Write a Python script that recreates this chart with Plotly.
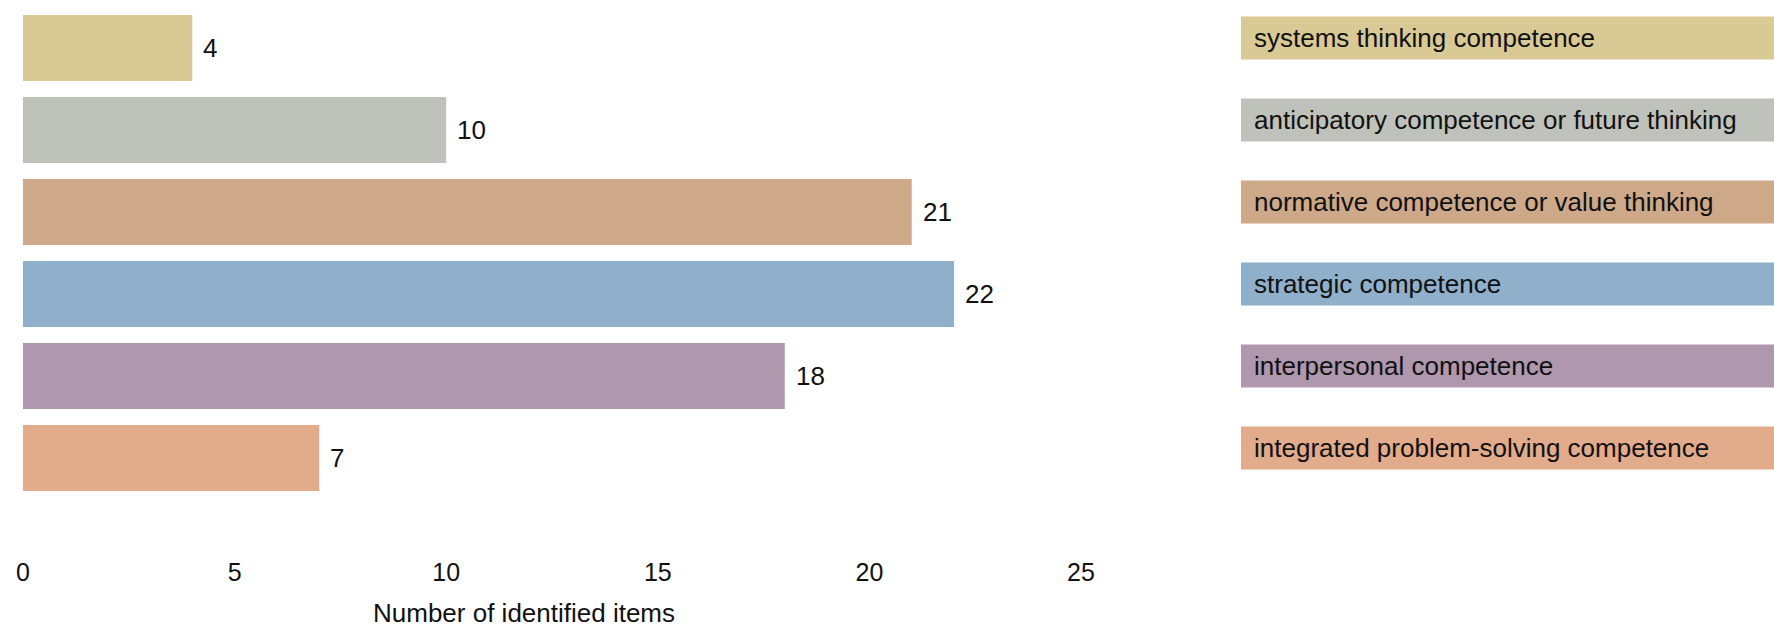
import plotly.graph_objects as go

categories = [
    "systems thinking competence",
    "anticipatory competence or future thinking",
    "normative competence or value thinking",
    "strategic competence",
    "interpersonal competence",
    "integrated problem-solving competence",
]
values = [4, 10, 21, 22, 18, 7]
colors = ["#D9CA95", "#BFC2BA", "#CDA889", "#8FAFCB", "#AF97AD", "#E2AB8C"]
x_ticks = [0, 5, 10, 15, 20, 25]
x_title = "Number of identified items"

W, H = 1774, 631
FONT = "Liberation Sans, Arial, sans-serif"
plot_bottom = 555
idx = list(range(len(categories)))

fig = go.Figure()
fig.add_trace(go.Bar(
    x=values, y=idx, orientation="h",
    marker=dict(color=colors, line=dict(width=0)),
    width=0.805, hoverinfo="x+text", hovertext=categories,
    showlegend=False,
))

# value labels next to each bar
for i, v in enumerate(values):
    fig.add_annotation(x=v, y=i, xref="x", yref="y", text=str(v),
                       showarrow=False, xanchor="left", yanchor="middle",
                       xshift=9, font=dict(size=26, color="#111111", family=FONT))

# legend-like coloured boxes on the right
box_x0 = 1241 / W
for i, (c, col) in enumerate(zip(categories, colors)):
    yc = i - 0.122
    fig.add_shape(type="rect", xref="paper", yref="y", x0=box_x0, x1=1.0,
                  y0=yc - 0.262, y1=yc + 0.262, fillcolor=col, line=dict(width=0),
                  layer="below")
    fig.add_annotation(x=1252 / W, y=yc, xref="paper", yref="y", text=c,
                       showarrow=False, xanchor="left", yanchor="middle",
                       font=dict(size=26, color="#111111", family=FONT))

# x-axis title
fig.add_annotation(x=524 / W, y=(plot_bottom - 630) / plot_bottom, xref="paper", yref="paper",
                   text=x_title, showarrow=False, xanchor="center", yanchor="bottom",
                   font=dict(size=26, color="#111111", family=FONT))

fig.update_layout(
    template="none",
    width=W, height=H,
    margin=dict(l=0, r=0, t=0, b=H - plot_bottom, pad=0, autoexpand=False),
    plot_bgcolor="white", paper_bgcolor="white",
    font=dict(family=FONT, size=25, color="#111111"),
    xaxis=dict(domain=[23 / W, 1081 / W], range=[0, 25], tickvals=x_ticks,
               automargin=False,
               showgrid=False, zeroline=False, showline=False, ticks="",
               tickfont=dict(size=25, color="#111111")),
    yaxis=dict(range=[(plot_bottom - 48) / 82, -48 / 82], showgrid=False,
               automargin=False,
               zeroline=False, showline=False, showticklabels=False),
)

fig.write_html(
    "out.html",
    config={"displayModeBar": False},
    post_script=(
        "document.body.style.margin='0';"
        "document.body.style.overflow='hidden';"
    ),
)
